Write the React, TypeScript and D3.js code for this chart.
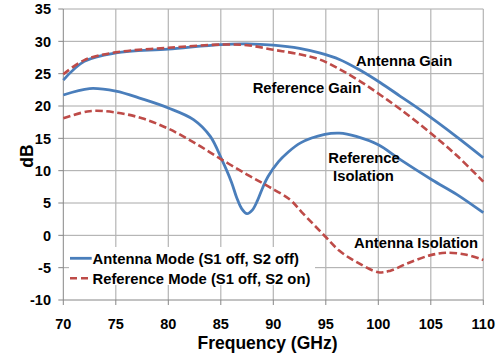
import React from "react";
import * as d3 from "d3";

const xTicks = [70, 75, 80, 85, 90, 95, 100, 105, 110];
const yTicks = [-10, -5, 0, 5, 10, 15, 20, 25, 30, 35];

const freqAntGain = [70, 72, 75, 80, 85, 87.5, 90, 92.5, 94.4, 96.3, 98.2, 100.2, 102.1, 104.0, 107.5, 110];
const antennaGain = [24.0, 26.9, 28.2, 28.8, 29.5, 29.6, 29.4, 28.9, 28.2, 27.2, 25.6, 23.6, 21.5, 19.4, 15.2, 12.0];

const freqRefGain = [70, 72, 75, 80, 85, 87.5, 90, 92.5, 94.4, 96.3, 98.2, 100.2, 102.1, 105, 107.5, 110];
const referenceGain = [24.9, 27.1, 28.3, 29.0, 29.5, 29.4, 28.7, 28.0, 27.2, 25.7, 23.9, 21.7, 19.5, 15.8, 12.3, 8.3];

const freqAntIso = [70, 72.5, 75, 77.5, 80, 82.4, 84.0, 85.1, 86.0, 86.5, 87.0, 87.5, 88.0, 88.5, 89.0, 89.5, 90.5, 91.3, 92.6, 94.9, 96.3, 97.9, 100, 102.1, 105.1, 107.5, 110];
const antennaModeIso = [21.7, 22.7, 22.3, 21.1, 19.7, 17.9, 15.3, 11.7, 8.3, 5.9, 4.1, 3.35, 3.9, 5.4, 7.4, 9.1, 11.4, 12.7, 14.3, 15.6, 15.8, 15.3, 14.0, 11.7, 8.6, 6.3, 3.5];

const freqRefIso = [70, 72.5, 75, 77.5, 80, 82.5, 85, 87.5, 89.6, 91.6, 92.7, 94.9, 96.3, 97.9, 100, 101.1, 102.7, 104.9, 106.5, 108.4, 110];
const referenceModeIso = [18.1, 19.2, 19.0, 18.1, 16.5, 14.3, 11.8, 9.4, 7.5, 5.5, 3.6, -0.1, -2.4, -4.1, -5.7, -5.5, -4.4, -3.1, -2.7, -3.0, -3.8];

const legendLabels = ["Antenna Mode (S1 off, S2 off)", "Reference Mode (S1 off, S2 on)"];

const BLUE = "#4A7EBB";
const RED = "#BE4B48";
const FONT = "'Liberation Sans', Arial, sans-serif";

export default function App() {
  const W = 501, H = 358;
  const x = d3.scaleLinear().domain([70, 110]).range([63.3, 483.3]);
  const y = d3.scaleLinear().domain([-10, 35]).range([300, 9]);

  const line = (xs: number[], ys: number[]) =>
    d3.line<number>()
      .x((_, i) => x(xs[i]))
      .y((v) => y(v))
      .curve(d3.curveCatmullRom.alpha(0.5))(ys) || "";

  const tickFont = { fontFamily: FONT, fontWeight: 700, fontSize: 14.5, fill: "#000" } as const;
  const labelFont = { fontFamily: FONT, fontWeight: 700, fontSize: 14.8, fill: "#000" } as const;

  return (
    <svg width={W} height={H} style={{ position: "absolute", left: 0, top: 0, background: "#fff" }}>
      <rect x={0} y={0} width={W} height={H} fill="#fff" />
      {/* grid */}
      {yTicks.filter((t) => t > -10).map((t) => (
        <line key={"gy" + t} x1={x(70)} x2={x(110)} y1={y(t)} y2={y(t)} stroke="#a8a8a8" strokeWidth={1} />
      ))}
      {xTicks.filter((t) => t > 70).map((t) => (
        <line key={"gx" + t} x1={x(t)} x2={x(t)} y1={y(35)} y2={y(-10)} stroke="#b4b4b4" strokeWidth={1.2} />
      ))}
      {/* axes */}
      <line x1={x(70)} x2={x(70)} y1={y(35)} y2={y(-10)} stroke="#868686" strokeWidth={1} />
      <line x1={x(70)} x2={x(110)} y1={y(-10)} y2={y(-10)} stroke="#868686" strokeWidth={1} />
      {yTicks.map((t) => (
        <g key={"ty" + t}>
          <line x1={x(70) - 5} x2={x(70)} y1={y(t)} y2={y(t)} stroke="#868686" />
          <text x={51} y={y(t)} dy="0.36em" textAnchor="end" {...tickFont}>{t}</text>
        </g>
      ))}
      {xTicks.map((t) => (
        <g key={"tx" + t}>
          <line x1={x(t)} x2={x(t)} y1={y(-10)} y2={y(-10) + 5} stroke="#868686" />
          <text x={x(t)} y={328.5} textAnchor="middle" {...tickFont}>{t}</text>
        </g>
      ))}
      {/* series */}
      <path d={line(freqAntGain, antennaGain)} fill="none" stroke={BLUE} strokeWidth={2.8} />
      <path d={line(freqAntIso, antennaModeIso)} fill="none" stroke={BLUE} strokeWidth={2.8} />
      <path d={line(freqRefGain, referenceGain)} fill="none" stroke={RED} strokeWidth={2.6} strokeDasharray="7.5,3.5" />
      <path d={line(freqRefIso, referenceModeIso)} fill="none" stroke={RED} strokeWidth={2.6} strokeDasharray="7.5,3.5" />
      {/* annotations */}
      <text x={356} y={65.5} {...labelFont}>Antenna Gain</text>
      <text x={252.7} y={92.5} {...labelFont}>Reference Gain</text>
      <text x={364} y={163} textAnchor="middle" {...labelFont}>Reference</text>
      <text x={363.5} y={181} textAnchor="middle" {...labelFont}>Isolation</text>
      <text x={354} y={247.5} {...labelFont}>Antenna Isolation</text>
      {/* legend */}
      <rect x={69} y={247} width={246} height={38} fill="#fff" />
      <line x1={70} x2={91.7} y1={258.3} y2={258.3} stroke={BLUE} strokeWidth={2.8} />
      <line x1={70} x2={91.7} y1={278.3} y2={278.3} stroke={RED} strokeWidth={2.6} strokeDasharray="7,4" />
      <text x={92.5} y={263.5} {...labelFont}>{legendLabels[0]}</text>
      <text x={92.5} y={283.5} {...labelFont}>{legendLabels[1]}</text>
      {/* axis titles */}
      <text x={267.5} y={349} textAnchor="middle" fontFamily={FONT} fontWeight={700} fontSize={17.5}>Frequency (GHz)</text>
      <text transform="translate(33,156) rotate(-90)" textAnchor="middle" fontFamily={FONT} fontWeight={700} fontSize={17.5}>dB</text>
    </svg>
  );
}
